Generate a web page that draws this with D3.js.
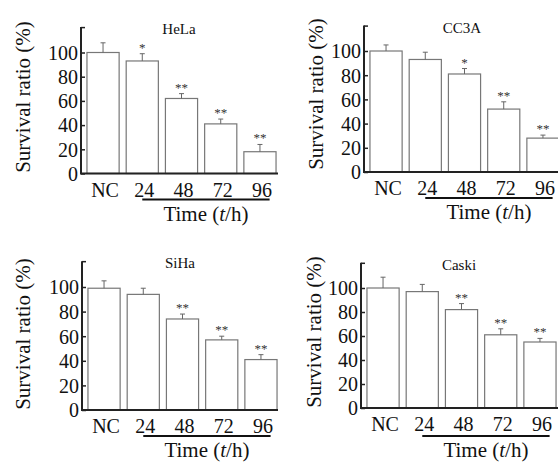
<!DOCTYPE html>
<html>
<head>
<meta charset="utf-8">
<script src="https://cdn.jsdelivr.net/npm/d3@7"></script>
<style>
  body { margin: 0; background: #fff; }
  svg { display: block; }
</style>
</head>
<body>
<svg id="chart" width="558" height="470"></svg>
<script>
// --- data
const groups = ['NC', '24', '48', '72', '96']
const yTicks = [0, 20, 40, 60, 80, 100]

const helaValues = [100, 93, 62, 41, 18]
const helaErrors = [8, 6, 4, 4, 6]
const helaStars = ['', '*', '**', '**', '**']

const cc3aValues = [100, 93, 81, 52, 28]
const cc3aErrors = [5, 6, 4.5, 6, 2.5]
const cc3aStars = ['', '', '*', '**', '**']

const sihaValues = [99, 94, 74, 57, 41]
const sihaErrors = [6, 5, 4, 3, 4]
const sihaStars = ['', '', '**', '**', '**']

const caskiValues = [100, 97, 82, 61, 55]
const caskiErrors = [9, 6, 5, 5, 3]
const caskiStars = ['', '', '**', '**', '**']

const FONT = '"Liberation Serif", "Times New Roman", Times, serif'

// --- panel placement on the page
const panels = [
    {name: 'HeLa', values: helaValues, errors: helaErrors, stars: helaStars,
     axisX: 81, y0: 173.5, y100: 52.5, xEnd: 278, labelDx: 58, labelY: 97, lineDy: 26},
    {name: 'CC3A', values: cc3aValues, errors: cc3aErrors, stars: cc3aStars,
     axisX: 364, y0: 172, y100: 51, xEnd: 558, labelDx: 48, labelY: 94, lineDy: 26},
    {name: 'SiHa', values: sihaValues, errors: sihaErrors, stars: sihaStars,
     axisX: 82, y0: 410, y100: 287, xEnd: 278, labelDx: 59, labelY: 334, lineDy: 26},
    {name: 'Caski', values: caskiValues, errors: caskiErrors, stars: caskiStars,
     axisX: 361, y0: 408, y100: 288, xEnd: 558, labelDx: 47, labelY: 332, lineDy: 28}
]

const svg = d3.select('#chart')

function drawPanel(p) {
    const g = svg.append('g')

    const x = d3.scaleBand()
        .domain(groups)
        .range([p.axisX + 4, p.axisX + 197])
        .paddingInner(0.18)
        .paddingOuter(0.05)
    const bw = x.bandwidth()

    const y = d3.scaleLinear()
        .domain([0, 100])
        .range([p.y0, p.y100])
    const yTop = y(121)

    const rows = groups.map((k, i) => ({k, v: p.values[i], e: p.errors[i], s: p.stars[i]}))

    // bars
    g.selectAll('rect.bar').data(rows).join('rect')
        .attr('class', 'bar')
        .attr('x', d => x(d.k))
        .attr('y', d => y(d.v))
        .attr('width', bw)
        .attr('height', d => y(0) - y(d.v))
        .attr('fill', '#fff')
        .attr('stroke', '#777')
        .attr('stroke-width', 1.2)

    // upper error bars
    g.selectAll('line.err').data(rows).join('line')
        .attr('class', 'err')
        .attr('x1', d => x(d.k) + bw / 2).attr('x2', d => x(d.k) + bw / 2)
        .attr('y1', d => y(d.v)).attr('y2', d => y(d.v + d.e))
        .attr('stroke', '#666').attr('stroke-width', 1)
    g.selectAll('line.cap').data(rows).join('line')
        .attr('class', 'cap')
        .attr('x1', d => x(d.k) + bw / 2 - 2.5).attr('x2', d => x(d.k) + bw / 2 + 2.5)
        .attr('y1', d => y(d.v + d.e)).attr('y2', d => y(d.v + d.e))
        .attr('stroke', '#666').attr('stroke-width', 1)

    // significance stars
    g.selectAll('text.star').data(rows.filter(d => d.s)).join('text')
        .attr('class', 'star')
        .attr('x', d => x(d.k) + bw / 2)
        .attr('y', d => y(d.v + d.e) - 2)
        .attr('text-anchor', 'middle')
        .style('font-family', FONT)
        .style('font-size', '13px')
        .style('fill', '#333')
        .text(d => d.s)

    // y axis, ticks pointing inward
    const yAxis = d3.axisLeft(d3.scaleLinear().domain([0, 121]).range([p.y0, yTop]))
        .tickValues(yTicks.concat([121]))
        .tickFormat(d => d > 100 ? '' : d)
        .tickSize(-4)
        .tickPadding(3)
    const ya = g.append('g')
        .attr('transform', `translate(${p.axisX},0)`)
        .call(yAxis)
        .attr('font-family', null)
        .attr('font-size', null)
    ya.select('.domain').attr('stroke', '#222').attr('stroke-width', 2).attr('d', `M0,${p.y0}V${yTop}`)
    ya.selectAll('.tick line').attr('stroke', '#222').attr('stroke-width', 1.5)
    ya.selectAll('.tick text')
        .style('font-family', FONT)
        .style('font-size', '20px')
        .attr('dy', '0.34em')
        .style('fill', '#111')

    // x axis baseline
    g.append('line')
        .attr('x1', p.axisX - 1).attr('x2', p.xEnd)
        .attr('y1', p.y0).attr('y2', p.y0)
        .attr('stroke', '#222').attr('stroke-width', 2)

    g.selectAll('text.xlab').data(groups).join('text')
        .attr('class', 'xlab')
        .attr('x', d => x(d) + bw / 2 + 2)
        .attr('y', p.y0 + 23)
        .attr('text-anchor', 'middle')
        .style('font-family', FONT)
        .style('font-size', '20px')
        .style('fill', '#111')
        .text(d => d)

    // bracket under the time points
    const lx1 = x('24') + bw / 2
    const lx2 = x('96') + bw * 0.8
    g.append('line')
        .attr('x1', lx1).attr('x2', lx2)
        .attr('y1', p.y0 + p.lineDy).attr('y2', p.y0 + p.lineDy)
        .attr('stroke', '#111').attr('stroke-width', 2)

    const tl = g.append('text')
        .attr('x', (lx1 + lx2) / 2)
        .attr('y', p.y0 + p.lineDy + 21)
        .attr('text-anchor', 'middle')
        .style('font-family', FONT)
        .style('font-size', '21px')
        .style('fill', '#111')
    tl.append('tspan').text('Time (')
    tl.append('tspan').style('font-style', 'italic').text('t')
    tl.append('tspan').text('/h)')

    // y label
    g.append('text')
        .attr('transform', `translate(${p.axisX - p.labelDx},${p.labelY}) rotate(-90)`)
        .attr('text-anchor', 'middle')
        .attr('dy', '0.35em')
        .style('font-family', FONT)
        .style('font-size', '21px')
        .style('fill', '#111')
        .text('Survival ratio (%)')

    // panel title
    g.append('text')
        .attr('x', p.axisX + 98)
        .attr('y', yTop + 7)
        .attr('text-anchor', 'middle')
        .style('font-family', FONT)
        .style('font-size', '15px')
        .style('fill', '#111')
        .text(p.name)
}

panels.forEach(drawPanel)
</script>
</body>
</html>
